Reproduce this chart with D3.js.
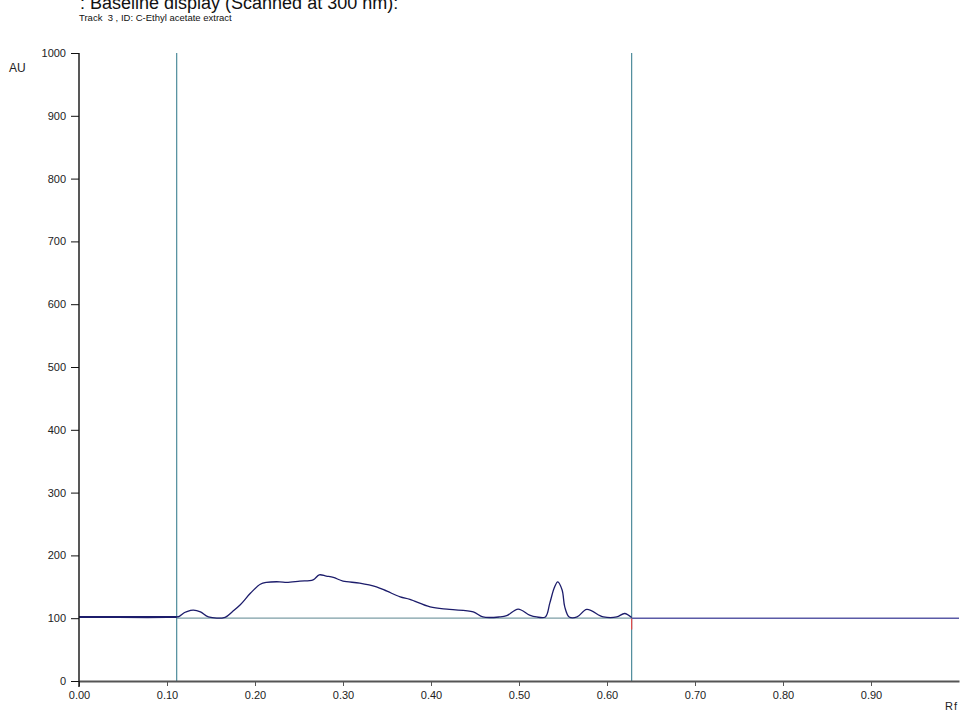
<!DOCTYPE html>
<meta charset="utf-8">
<head>
    <script src="https://d3js.org/d3.v7.min.js"></script>
    <style>
    body { margin: 0; background: white; }
    svg { display: block; font-family: "Liberation Sans", Arial, sans-serif; }
    .axis text { font-size: 11px; fill: #222; }
    .curve { fill: none; stroke: #1c1c6b; stroke-width: 1.3px; }
    </style>
</head>
<body>
<svg id="chart"></svg>
<script>

// scan profile, Rf vs AU
var rf = [0, 0.111, 0.114, 0.120, 0.126, 0.130, 0.138, 0.147, 0.166, 0.174, 0.183, 0.195, 0.206, 0.213,
          0.228, 0.236, 0.251, 0.266, 0.273, 0.281, 0.289, 0.300, 0.319, 0.338, 0.350, 0.365, 0.376,
          0.399, 0.421, 0.448, 0.459, 0.478, 0.486, 0.499, 0.512, 0.520, 0.530, 0.535, 0.540, 0.544,
          0.549, 0.552, 0.557, 0.566, 0.577, 0.592, 0.596, 0.611, 0.620, 0.628];
var au = [102, 102, 103, 109, 112, 113, 110, 102, 101.5, 110, 121, 140, 154, 157,
          158, 157, 159, 161, 169, 167, 165, 159, 156, 150, 143, 134, 130,
          118, 114, 110, 102, 102, 104, 114.5, 105, 102, 102, 124, 148, 158,
          145, 118, 102, 102, 114, 104, 102, 102, 107.5, 101];

// baseline after the end marker
var tailRf = [0.628, 1.0];
var tailAu = [100, 100];

// start / end markers and baseline level
var markers = [0.111, 0.628];
var baseLevel = 100;

var xTicks = [0, 0.1, 0.2, 0.3, 0.4, 0.5, 0.6, 0.7, 0.8, 0.9];
var yTicks = [0, 100, 200, 300, 400, 500, 600, 700, 800, 900, 1000];

var W = 963, H = 714;
var svg = d3.select("#chart").attr("width", W).attr("height", H);

var x = d3.scaleLinear().domain([0, 1]).range([79, 959]);
var y = d3.scaleLinear().domain([0, 1000]).range([681, 53]);

// header texts (the first one is cut at the top edge, as in the source)
svg.append("text")
    .attr("x", 80).attr("y", 9)
    .style("font-size", "18px")
    .style("fill", "#111")
    .text(": Baseline display (Scanned at 300 nm):");

svg.append("text")
    .attr("x", 79).attr("y", 21)
    .style("font-size", "9.5px")
    .style("fill", "#111")
    .style("white-space", "pre")
    .text("Track  3 , ID: C-Ethyl acetate extract");

// baseline between markers
svg.append("line")
    .attr("x1", x(markers[0])).attr("x2", x(markers[1]))
    .attr("y1", y(baseLevel)).attr("y2", y(baseLevel))
    .style("stroke", "#7c9ea6")
    .style("stroke-width", "1.3px");

// vertical marker lines
svg.selectAll(".marker")
    .data(markers)
    .enter().append("line")
    .attr("class", "marker")
    .attr("x1", function(d) { return x(d); })
    .attr("x2", function(d) { return x(d); })
    .attr("y1", y(1000)).attr("y2", y(0))
    .style("stroke", "#4e8b9b")
    .style("stroke-width", "1.2px");

// small red mark at end
svg.append("line")
    .attr("x1", x(markers[1])).attr("x2", x(markers[1]))
    .attr("y1", y(baseLevel)).attr("y2", y(baseLevel - 18))
    .style("stroke", "#e04848")
    .style("stroke-width", "1.2px");

// tail baseline
var tail = tailRf.map(function(d, i) { return {rf: d, au: tailAu[i]}; });
svg.append("path")
    .datum(tail)
    .attr("fill", "none")
    .style("stroke", "#5a5aa6")
    .style("stroke-width", "1.5px")
    .attr("d", d3.line()
        .x(function(d) { return x(d.rf); })
        .y(function(d) { return y(d.au); }));

// the scan curve
var data = rf.map(function(d, i) { return {rf: d, au: au[i]}; });
svg.append("path")
    .datum(data)
    .attr("class", "curve")
    .attr("d", d3.line()
        .curve(d3.curveCatmullRom.alpha(0.5))
        .x(function(d) { return x(d.rf); })
        .y(function(d) { return y(d.au); }));

// thicker start segment
svg.append("path")
    .datum(data.slice(0, 2))
    .attr("fill", "none")
    .style("stroke", "#1c1c6b")
    .style("stroke-width", "2px")
    .attr("d", d3.line()
        .x(function(d) { return x(d.rf); })
        .y(function(d) { return y(d.au); }));

// X axis
var xAxis = svg.append("g")
    .attr("class", "axis")
    .attr("transform", "translate(0," + y(0) + ")")
    .call(d3.axisBottom(x).tickValues(xTicks).tickFormat(d3.format(".2f")).tickSize(5).tickSizeOuter(0));
xAxis.select(".domain").style("stroke", "#555").style("stroke-width", "2px");
xAxis.selectAll(".tick line").style("stroke", "#555");
xAxis.selectAll("text").attr("dy", "0.95em");

// Y axis
var yAxis = svg.append("g")
    .attr("class", "axis")
    .attr("transform", "translate(" + x(0) + ",0)")
    .call(d3.axisLeft(y).tickValues(yTicks).tickFormat(d3.format("d")).tickSize(8).tickSizeOuter(0).tickPadding(5));
yAxis.select(".domain").attr("d", "M0," + (y(0) + 6) + "V" + y(1000)).style("stroke", "#111").style("stroke-width", "1.4px");
yAxis.selectAll(".tick line").style("stroke", "#111");

// axis labels
svg.append("text")
    .attr("x", 9).attr("y", 72)
    .style("font-size", "12px")
    .style("fill", "#222")
    .text("AU");

svg.append("text")
    .attr("x", 958).attr("y", 710)
    .attr("text-anchor", "end")
    .style("font-size", "11px")
    .style("letter-spacing", "1px")
    .style("fill", "#222")
    .text("Rf");

</script>
</body>
